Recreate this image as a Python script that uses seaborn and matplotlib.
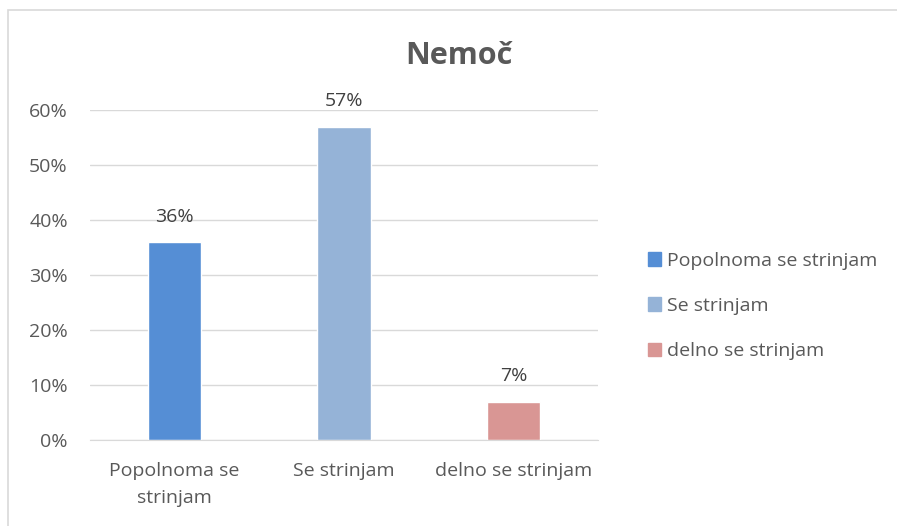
import seaborn as sns
import matplotlib.pyplot as plt
from matplotlib.patches import Patch, Rectangle
import pandas as pd

categories = ["Popolnoma se\nstrinjam", "Se strinjam", "delno se strinjam"]
legend_labels = ["Popolnoma se strinjam", "Se strinjam", "delno se strinjam"]
values = [0.36, 0.57, 0.07]
colors = ["#558ED5", "#95B3D7", "#D99694"]

df = pd.DataFrame({"cat": categories, "val": values})

sns.set_style("white")
plt.rcParams['font.family'] = ['Open Sans', 'DejaVu Sans']
txt = "#595959"

fig = plt.figure(figsize=(8.97, 5.26), dpi=100)
fig.patches.append(Rectangle((8 / 897, -0.1), 1.2, 1 - 10 / 526 + 0.1,
                             transform=fig.transFigure, fill=False,
                             edgecolor="#D9D9D9", linewidth=1.2))
ax = fig.add_axes([90 / 897, 1 - 440 / 526, (598 - 90) / 897, (440 - 110) / 526])

sns.barplot(data=df, x="cat", y="val", hue="cat", palette=colors,
            width=0.315, legend=False, ax=ax, saturation=1)

ax.set_ylim(0, 0.6)
ax.set_xlim(-0.5, 2.5)
ax.set_yticks([0, 0.1, 0.2, 0.3, 0.4, 0.5, 0.6])
ax.set_yticklabels([f"{int(round(v*100))}%" for v in ax.get_yticks()],
                   fontsize=14, color=txt)
ax.tick_params(axis="x", labelsize=14, labelcolor=txt, length=0, pad=16)
ax.tick_params(axis="y", length=0, pad=16)
for lab in ax.get_xticklabels():
    lab.set_linespacing(1.65)
ax.yaxis.grid(True, color="#D9D9D9", linewidth=1)
ax.set_axisbelow(True)
for s in ["top", "right", "left"]:
    ax.spines[s].set_visible(False)
ax.spines["bottom"].set_color("#D9D9D9")
ax.set_xlabel("")
ax.set_ylabel("")

for i, v in enumerate(values):
    ax.text(i, v + 0.03, f"{int(round(v*100))}%", ha="center", va="bottom",
            fontsize=14, color="#404040")

fig.text(459 / 897, 1 - 56 / 526, "Nemoč", ha="center", va="center",
         fontsize=22, fontweight="bold", color=txt)

handles = [Patch(facecolor=c, edgecolor=c) for c in colors]
fig.legend(handles, legend_labels, loc="center left",
           bbox_to_anchor=(630 / 897, 1 - 306 / 526), frameon=False,
           fontsize=14, labelcolor=txt, handlelength=0.7, handleheight=0.7,
           handletextpad=0.3, labelspacing=1.4)

fig.savefig("out.png", dpi=100)
